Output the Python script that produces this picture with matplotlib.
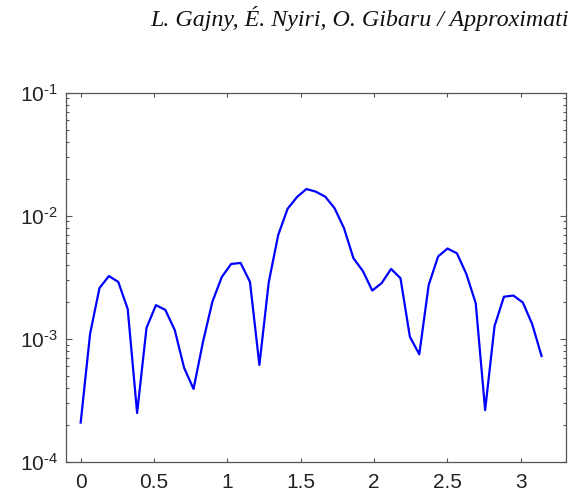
import numpy as np
import matplotlib
matplotlib.use("Agg")
import matplotlib.pyplot as plt
from matplotlib.ticker import LogLocator, FixedLocator, FixedFormatter

plt.rcParams['font.family'] = ['Liberation Sans', 'DejaVu Sans']
plt.rcParams['mathtext.fontset'] = 'custom'
plt.rcParams['mathtext.rm'] = 'Liberation Sans'
plt.rcParams['mathtext.it'] = 'Liberation Sans:italic'

# Error values (50 samples on [0, pi])
err = [2.09e-4, 1.10e-3, 2.59e-3, 3.24e-3, 2.90e-3, 1.75e-3, 2.50e-4, 1.23e-3,
       1.88e-3, 1.72e-3, 1.18e-3, 5.81e-4, 3.92e-4, 9.44e-4, 2.00e-3, 3.18e-3,
       4.06e-3, 4.14e-3, 2.90e-3, 6.14e-4, 2.90e-3, 6.98e-3, 1.14e-2, 1.42e-2,
       1.65e-2, 1.57e-2, 1.43e-2, 1.15e-2, 7.91e-3, 4.52e-3, 3.56e-3, 2.47e-3,
       2.84e-3, 3.70e-3, 3.11e-3, 1.04e-3, 7.50e-4, 2.74e-3, 4.67e-3, 5.42e-3,
       4.96e-3, 3.37e-3, 1.95e-3, 2.64e-4, 1.27e-3, 2.20e-3, 2.25e-3, 1.98e-3,
       1.32e-3, 7.26e-4]
t = np.linspace(0, np.pi, len(err))

x_ticks = [0, 0.5, 1, 1.5, 2, 2.5, 3]
x_labels = ['0', '0.5', '1', '1.5', '2', '2.5', '3']
y_ticks = [1e-4, 1e-3, 1e-2, 1e-1]
y_labels = [r'$10^{\text{-}4}$', r'$10^{\text{-}3}$', r'$10^{\text{-}2}$', r'$10^{\text{-}1}$']

# page header, as far as it shows in the original
header = "L. Gajny, \u00c9. Nyiri, O. Gibaru / Approximati"

fig = plt.figure(figsize=(5.75, 4.98), dpi=100)
ax = fig.add_axes([0.1148, 0.0723, 0.869, 0.7416])

ax.semilogy(t, err, color=(0, 0, 1), linewidth=1.6)

ax.set_xlim(-0.1, 3.306)
ax.set_ylim(1e-4, 1e-1)

ax.xaxis.set_major_locator(FixedLocator(x_ticks))
ax.xaxis.set_major_formatter(FixedFormatter(x_labels))
ax.yaxis.set_major_locator(FixedLocator(y_ticks))
ax.yaxis.set_major_formatter(FixedFormatter(y_labels))
ax.yaxis.set_minor_locator(LogLocator(base=10, subs=np.arange(2, 10)))
ax.yaxis.set_minor_formatter(FixedFormatter([]))

ax.tick_params(axis='both', which='both', direction='in', top=True, right=True,
               colors='#555555', labelcolor='#222222', labelsize=15, width=0.8)
ax.tick_params(axis='x', which='major', length=2.6, pad=8)
ax.tick_params(axis='y', which='major', length=4.2, pad=6)
ax.tick_params(axis='y', which='minor', length=2.0)
for s in ax.spines.values():
    s.set_color('#555555')
    s.set_linewidth(0.9)

fig.text(150 / 575, 1 - 26 / 498, header, family='Liberation Serif', style='italic',
         fontsize=17.3, va='baseline', ha='left', color='#111111')

fig.savefig("out.png", dpi=100)
